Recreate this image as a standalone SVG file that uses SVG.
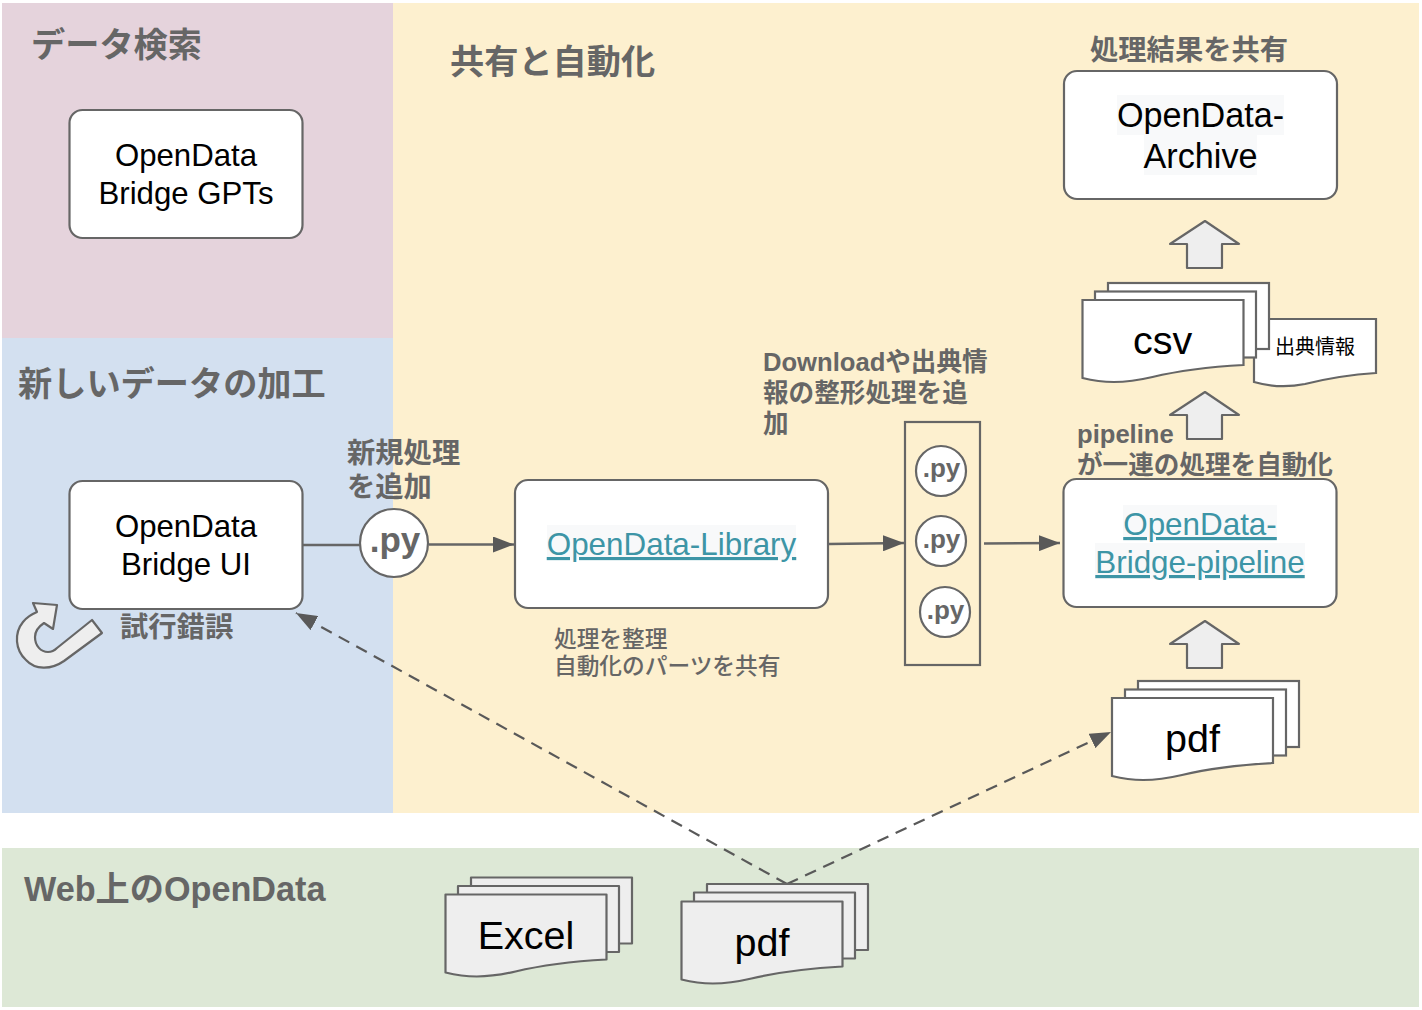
<svg xmlns="http://www.w3.org/2000/svg" width="1422" height="1010" viewBox="0 0 1422 1010">
<style>
text{font-family:"Liberation Sans","Noto Sans CJK JP",sans-serif}
.h{font-size:34.200px;font-weight:700;fill:#666}
.m{font-size:28.300px;font-weight:700;fill:#666}
.s{font-size:25.600px;font-weight:700;fill:#666}
.n{font-size:22.700px;font-weight:500;fill:#666}
.c{text-anchor:middle;fill:#000}
.t31{font-size:31.200px}
.t34{font-size:34.200px}
.t40{font-size:39.500px}
.lnk{fill:#3d95a6;text-decoration:underline;text-anchor:middle;font-size:31.400px}
.py{font-weight:700;fill:#666;text-anchor:middle}
.box{fill:#fff;stroke:#666;stroke-width:2.200}
.ln{fill:none;stroke:#666;stroke-width:2.400}
.da{fill:none;stroke:#595959;stroke-width:2.200;stroke-dasharray:12 8}
.w{fill:#fff;stroke:#666;stroke-width:2.200}
.g{fill:#eee;stroke:#666;stroke-width:2.200;stroke-linejoin:round}
.hl{fill:#f8f9fa}
</style>
<defs>
<marker id="a" markerUnits="userSpaceOnUse" markerWidth="21" markerHeight="16" refX="21" refY="8" orient="auto"><path d="M0 0L21 8L0 16Z" fill="#595959"/></marker>
<path id="doc" d="M0 0H161V65C125 67 95 71 70 77C40 84 20 83 0 78Z"/>
<rect id="pg" width="161" height="66"/>
<path id="up" d="M35 0L69 23H52V47H17V23H0Z"/>
</defs>

<g id="bands">
<rect x="393" y="3" width="1026" height="810" fill="#fdf0cf"/>
<rect x="2" y="3" width="391" height="335" fill="#e5d3dc"/>
<rect x="2" y="338" width="391" height="475" fill="#d3e0f0"/>
<rect x="2" y="848" width="1417" height="159" fill="#dde8d6"/>
</g>

<g id="titles">
<text class="h" x="31" y="57">データ検索</text>
<text class="h" x="18" y="396">新しいデータの加工</text>
<text class="h" x="450" y="74">共有と自動化</text>
<text class="h" x="24" y="901">Web上のOpenData</text>
<text class="m" x="1090" y="60">処理結果を共有</text>
<text class="m" x="347" y="463">新規処理</text>
<text class="m" x="347" y="497">を追加</text>
<text class="m" x="120" y="637">試行錯誤</text>
<text class="s" x="763" y="371">Downloadや出典情</text>
<text class="s" x="763" y="402">報の整形処理を追</text>
<text class="s" x="763" y="433">加</text>
<text class="s" x="1077" y="443">pipeline</text>
<text class="s" x="1077" y="474">が一連の処理を自動化</text>
<text class="n" x="554" y="647">処理を整理</text>
<text class="n" x="554" y="674">自動化のパーツを共有</text>
</g>

<g id="connectors">
<line class="ln" x1="303" y1="545" x2="360" y2="545"/>
<line class="ln" x1="429" y1="544.500" x2="514" y2="544.500" marker-end="url(#a)"/>
<line class="ln" x1="829" y1="544" x2="904" y2="543" marker-end="url(#a)"/>
<line class="ln" x1="984" y1="543.500" x2="1060" y2="543" marker-end="url(#a)"/>
<line class="da" x1="787" y1="884" x2="296" y2="613" marker-end="url(#a)"/>
<line class="da" x1="787" y1="884" x2="1111" y2="732" marker-end="url(#a)"/>
</g>

<g id="gpts">
<rect class="box" x="69.500" y="110" width="233" height="128" rx="13"/>
<text class="c t31" x="186" y="166">OpenData</text>
<text class="c t31" x="186" y="204">Bridge GPTs</text>
</g>
<g id="ui">
<rect class="box" x="69.500" y="481" width="233" height="128" rx="13"/>
<text class="c t31" x="186" y="537">OpenData</text>
<text class="c t31" x="186" y="575">Bridge UI</text>
</g>
<g id="loop" transform="translate(1 0)">
<path class="g" d="M91 620L101 633L63 661C50 670 34 670 25 660C14 650 13 633 22 622C26 617 31 614 36 612L32 603L56 605L52 629L43 623C37 627 34 632 34 637C34 646 40 652 47 652C50 652 53 651 56 648Z"/>
</g>
<g id="py-main">
<circle class="box" cx="394" cy="543" r="34"/>
<text class="py" x="395" y="552" font-size="35">.py</text>
</g>
<g id="library">
<rect class="box" x="515" y="480" width="313" height="128" rx="13"/>
<rect class="hl" x="547" y="525" width="249" height="35"/>
<text class="lnk" x="671.500" y="555">OpenData-Library</text>
</g>
<g id="py-group">
<rect fill="none" stroke="#666" stroke-width="2.200" x="905" y="422" width="75" height="243"/>
<circle class="box" cx="941" cy="471" r="25"/><text class="py" x="941.500" y="477" font-size="26">.py</text>
<circle class="box" cx="941" cy="541" r="25"/><text class="py" x="941.500" y="548" font-size="26">.py</text>
<circle class="box" cx="945" cy="612" r="25"/><text class="py" x="945.500" y="619" font-size="26">.py</text>
</g>
<g id="pipeline">
<rect class="box" x="1063.500" y="479" width="273" height="128" rx="13"/>
<rect class="hl" x="1123" y="505" width="154" height="35"/>
<rect class="hl" x="1095" y="543" width="210" height="36"/>
<text class="lnk" x="1200" y="535">OpenData-</text>
<text class="lnk" x="1200" y="573">Bridge-pipeline</text>
</g>
<g id="archive">
<rect class="box" x="1064" y="71" width="273" height="128" rx="13"/>
<rect class="hl" x="1117" y="95" width="167" height="40"/>
<rect class="hl" x="1144" y="135" width="113" height="40"/>
<text class="c t34" x="1200.500" y="127">OpenData-</text>
<text class="c t34" x="1200.500" y="168">Archive</text>
</g>
<g id="up1"><use href="#up" class="g" x="1170" y="221"/></g>
<g id="up2"><use href="#up" class="g" x="1170" y="392"/></g>
<g id="up3"><use href="#up" class="g" x="1170" y="621"/></g>

<g id="source">
<path class="w" d="M1254 319H1376V373C1345 375 1325 379 1305 384C1285 388 1268 386 1254 382Z"/>
<text x="1315" y="354" font-size="20" text-anchor="middle" fill="#000">出典情報</text>
</g>
<g id="csv">
<use href="#pg" class="w" x="1108" y="283"/>
<use href="#pg" class="w" x="1095" y="291.500"/>
<use href="#doc" class="w" x="1082.500" y="300"/>
<text class="c t40" x="1162.500" y="354">csv</text>
</g>
<g id="pdf-top">
<use href="#pg" class="w" x="1138" y="681"/>
<use href="#pg" class="w" x="1125" y="689.500"/>
<use href="#doc" class="w" x="1112" y="698"/>
<text class="c t40" x="1192.500" y="752">pdf</text>
</g>
<g id="excel">
<use href="#pg" class="g" x="471" y="877.500"/>
<use href="#pg" class="g" x="458" y="886"/>
<use href="#doc" class="g" x="445.500" y="894.500"/>
<text class="c t40" x="526" y="949">Excel</text>
</g>
<g id="pdf-web">
<use href="#pg" class="g" x="707" y="884"/>
<use href="#pg" class="g" x="694" y="892.500"/>
<use href="#doc" class="g" x="681.500" y="901.500"/>
<text class="c t40" x="762" y="956">pdf</text>
</g>
</svg>
